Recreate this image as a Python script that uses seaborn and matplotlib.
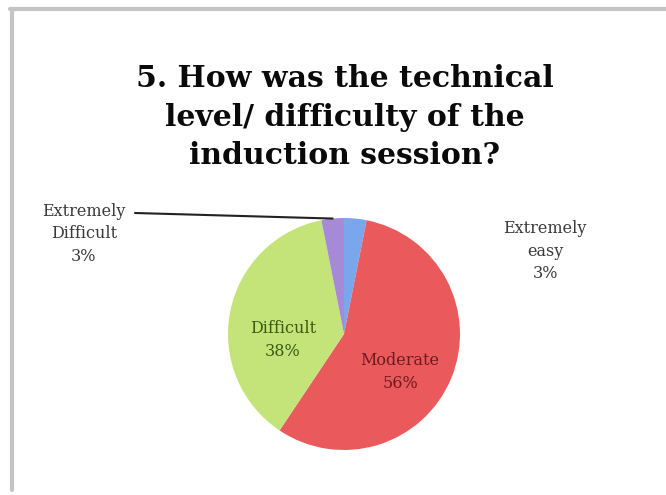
import matplotlib
matplotlib.use("Agg")
import matplotlib.pyplot as plt
import numpy as np
import seaborn as sns

# survey answers (counts), order as drawn clockwise from 12 o'clock
categories = ["Extremely easy", "Moderate", "Difficult", "Extremely Difficult"]
counts = [1, 18, 12, 1]
pct_labels = ["3%", "56%", "38%", "3%"]
title = "5. How was the technical\nlevel/ difficulty of the\ninduction session?"

sns.set_theme(style="white")
plt.rcParams["font.family"] = ["DejaVu Serif"]

colors = ["#7aa6ee", "#ea5a5c", "#c4e47a", "#a68ad8"]

fig = plt.figure(figsize=(6.66, 4.95), dpi=100)
ax = fig.add_axes([0, 0, 1, 1])

cx, cy, r = 344, 495 - 334, 116
wedges, _ = ax.pie(counts, colors=colors, startangle=90, counterclock=False,
                   center=(cx, cy), radius=r, frame=True,
                   wedgeprops=dict(linewidth=0))
ax.set_xlim(0, 666)
ax.set_ylim(0, 495)
ax.set_aspect("equal")
ax.axis("off")

# labels inside the two big slices (offsets from pie centre)
ax.text(cx + 56, cy - 38, categories[1] + "\n" + pct_labels[1], ha="center",
        va="center", fontsize=11.5, color="#6e1b1b", linespacing=1.45)
ax.text(cx - 61, cy - 6, categories[2] + "\n" + pct_labels[2], ha="center",
        va="center", fontsize=11.5, color="#3e5a12", linespacing=1.45)

# outside labels
ax.text(84, 495 - 234, "Extremely\nDifficult\n" + pct_labels[3], ha="center",
        va="center", fontsize=11.5, color="#3a3a3a", linespacing=1.45)
ax.text(545, 495 - 251, "Extremely\neasy\n" + pct_labels[0], ha="center",
        va="center", fontsize=11.5, color="#3a3a3a", linespacing=1.45)
w = wedges[3]
ang = np.deg2rad((w.theta1 + w.theta2) / 2)
ax.plot([135, cx + r * np.cos(ang)], [495 - 213, cy + r * np.sin(ang)],
        color="#222222", lw=1.5)

ax.text(345, 495 - 117, title, ha="center", va="center", fontsize=21.5,
        fontweight="bold", color="#0a0a0a", linespacing=1.42)

# outer frame
ax.plot([10, 666], [495 - 9, 495 - 9], color="#c4c4c4", lw=3, clip_on=False)
ax.plot([12, 12], [495 - 9, 495 - 490], color="#c4c4c4", lw=3, clip_on=False)

fig.savefig("out.png", dpi=100)
